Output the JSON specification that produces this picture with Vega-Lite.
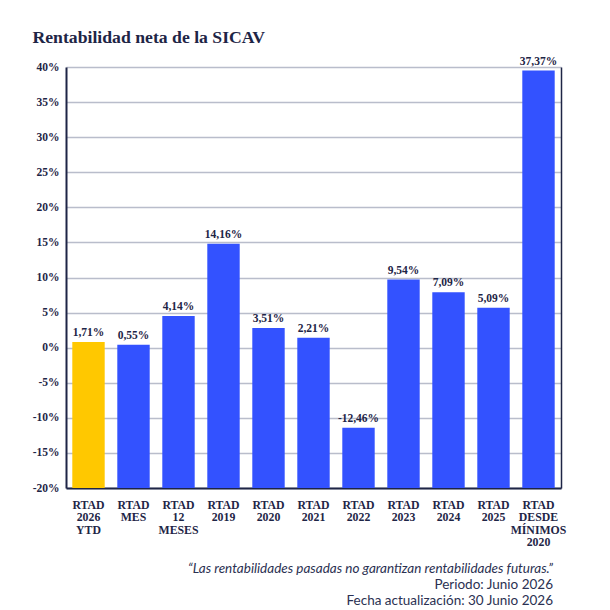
{
  "$schema": "https://vega.github.io/schema/vega-lite/v6.json",
  "width": 495,
  "height": 421,
  "autosize": "none",
  "padding": {"left": 66, "top": 67, "right": 49, "bottom": 122},
  "background": "white",
  "title": {
    "text": "“Las rentabilidades pasadas no garantizan rentabilidades futuras.”",
    "subtitle": ["Periodo: Junio 2026", "Fecha actualización: 30 Junio 2026"],
    "orient": "bottom",
    "anchor": "end",
    "frame": "group",
    "font": "Lato",
    "fontSize": 13.5,
    "fontStyle": "italic",
    "fontWeight": "normal",
    "color": "#2b3152",
    "subtitleFont": "Lato",
    "subtitleFontSize": 13.5,
    "subtitleColor": "#2b3152",
    "subtitlePadding": 2,
    "subtitleLineHeight": 16,
    "offset": 14,
    "dx": -8
  },
  "data": {
    "values": [
      {"categoria": "RTAD 2026 YTD", "valor": 0.8, "etiqueta": "1,71%", "tipo": "actual"},
      {"categoria": "RTAD MES", "valor": 0.4, "etiqueta": "0,55%", "tipo": "historico"},
      {"categoria": "RTAD 12 MESES", "valor": 4.5, "etiqueta": "4,14%", "tipo": "historico"},
      {"categoria": "RTAD 2019", "valor": 14.8, "etiqueta": "14,16%", "tipo": "historico"},
      {"categoria": "RTAD 2020", "valor": 2.8, "etiqueta": "3,51%", "tipo": "historico"},
      {"categoria": "RTAD 2021", "valor": 1.4, "etiqueta": "2,21%", "tipo": "historico"},
      {"categoria": "RTAD 2022", "valor": -11.4, "etiqueta": "-12,46%", "tipo": "historico"},
      {"categoria": "RTAD 2023", "valor": 9.7, "etiqueta": "9,54%", "tipo": "historico"},
      {"categoria": "RTAD 2024", "valor": 7.9, "etiqueta": "7,09%", "tipo": "historico"},
      {"categoria": "RTAD 2025", "valor": 5.7, "etiqueta": "5,09%", "tipo": "historico"},
      {"categoria": "RTAD DESDE MÍNIMOS 2020", "valor": 39.5, "etiqueta": "37,37%", "tipo": "historico"}
    ]
  },
  "encoding": {
    "x": {
      "field": "categoria",
      "type": "nominal",
      "sort": null,
      "scale": {"paddingInner": 0.28, "paddingOuter": 0.14},
      "axis": {
        "title": null,
        "labelExpr": "split(datum.label, ' ')",
        "labelAngle": 0,
        "labelFont": "Liberation Serif",
        "labelFontWeight": "bold",
        "labelFontSize": 11.8,
        "labelColor": "#1e2546",
        "labelLineHeight": 12.5,
        "labelPadding": 11,
        "labelBaseline": "top",
        "ticks": false,
        "domainColor": "#1e2546",
        "domainWidth": 2,
        "grid": false
      }
    }
  },
  "layer": [
    {
      "mark": {"type": "bar"},
      "encoding": {
        "y": {
          "field": "valor",
          "type": "quantitative",
          "scale": {"domain": [-20, 40], "nice": false, "zero": false},
          "axis": {
            "title": "Rentabilidad neta de la SICAV",
            "titleAngle": 0,
            "titleAlign": "left",
            "titleBaseline": "alphabetic",
            "titleX": -34,
            "titleY": -25,
            "titleFont": "Liberation Serif",
            "titleFontSize": 17.7,
            "titleFontWeight": "bold",
            "titleColor": "#1e2546",
            "values": [-20, -15, -10, -5, 0, 5, 10, 15, 20, 25, 30, 35, 40],
            "labelExpr": "datum.value + '%'",
            "labelFont": "Liberation Serif",
            "labelFontWeight": "bold",
            "labelFontSize": 11.5,
            "labelColor": "#1e2546",
            "labelPadding": 7,
            "ticks": false,
            "domainColor": "#1e2546",
            "domainWidth": 2,
            "grid": true,
            "gridColor": "#b9bdcb",
            "gridWidth": 1.5
          }
        },
        "y2": {"datum": -20},
        "color": {
          "field": "tipo",
          "type": "nominal",
          "scale": {"domain": ["actual", "historico"], "range": ["#ffc800", "#3352ff"]},
          "legend": null
        }
      }
    },
    {
      "mark": {
        "type": "text",
        "font": "Liberation Serif",
        "fontWeight": "bold",
        "fontSize": 11.5,
        "color": "#1e2546",
        "baseline": "alphabetic",
        "dy": -6
      },
      "encoding": {
        "y": {
          "field": "valor",
          "type": "quantitative",
          "axis": {
            "orient": "right",
            "title": null,
            "labels": false,
            "ticks": false,
            "grid": false,
            "domain": true,
            "domainColor": "#1e2546",
            "domainWidth": 1.5
          }
        },
        "text": {"field": "etiqueta"}
      }
    }
  ],
  "resolve": {"axis": {"y": "independent"}},
  "config": {"view": {"stroke": null}}
}
